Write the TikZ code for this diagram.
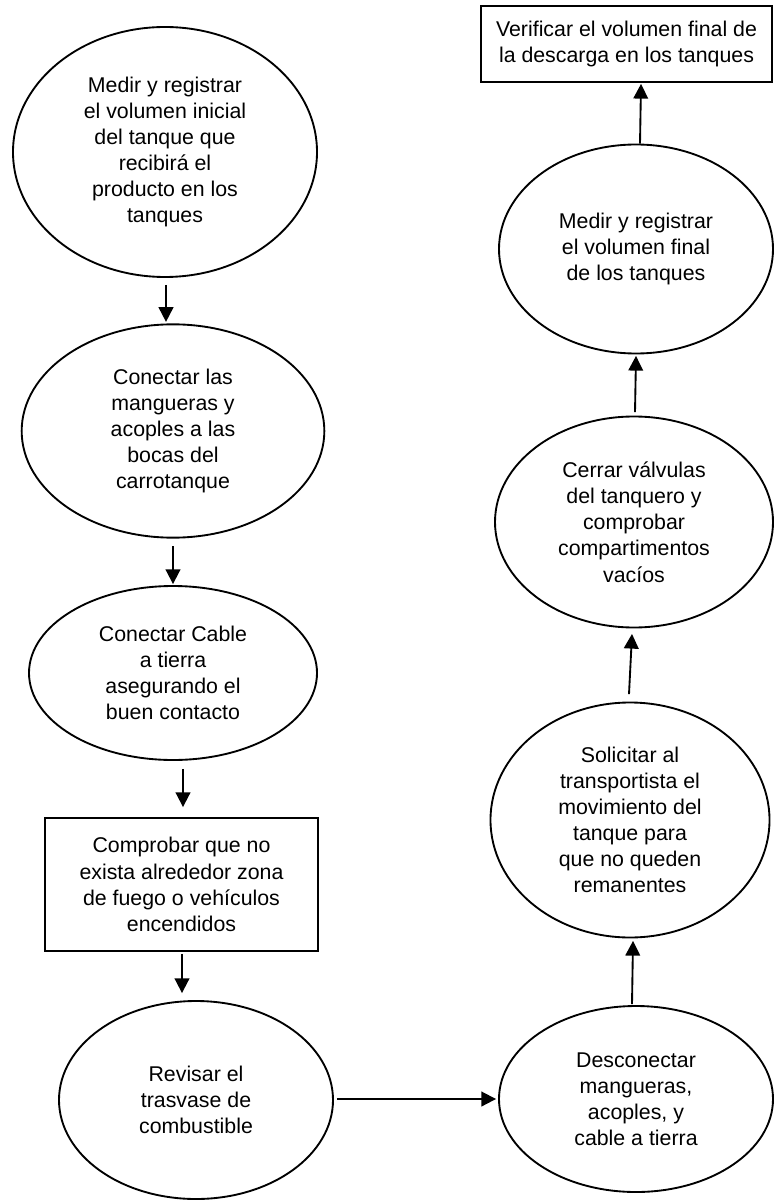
\documentclass[tikz,border=0pt]{standalone}
\usepackage{fontspec}
\setmainfont{Liberation Sans}
\usetikzlibrary{shapes.geometric,arrows.meta,calc}

\begin{document}
\begin{tikzpicture}[x=0.75pt,y=-0.75pt,
  every node/.style={font=\fontsize{16}{19.6}\selectfont, align=center, inner sep=0pt},
  oval/.style={ellipse, draw, line width=1.4pt},
  stepbox/.style={rectangle, draw, line width=1.4pt},
  arr/.style={line width=1.4pt, -{Triangle[length=11pt,width=11pt]}}]
\useasboundingbox (0,0) rectangle (774,1201);

% left column, top to bottom
\node[oval, minimum width=228pt, minimum height=187.5pt] (e1) at (165,152)
  {Medir y registrar\\el volumen inicial\\del tanque que\\recibirá el\\producto en los\\tanques};
\node[oval, minimum width=227pt, minimum height=160pt] (e2) at (173,431)
  {Conectar las\\mangueras y\\acoples a las\\bocas del\\carrotanque};
\node[oval, minimum width=216pt, minimum height=130.5pt] (e3) at (173,673)
  {Conectar Cable\\a tierra\\asegurando el\\buen contacto};
\node[stepbox, minimum width=204.75pt, minimum height=99.75pt] (r4) at (181.5,884.5)
  {Comprobar que no\\exista alrededor zona\\de fuego o vehículos\\encendidos};
\node[oval, minimum width=205.5pt, minimum height=148.5pt] (e5) at (196,1100)
  {Revisar el\\trasvase de\\combustible};

% right column, bottom to top
\node[oval, minimum width=205.5pt, minimum height=139.5pt] (e6) at (636,1099)
  {Desconectar\\mangueras,\\acoples, y\\cable a tierra};
\node[oval, minimum width=209.25pt, minimum height=176.25pt] (e7) at (630,820)
  {Solicitar al\\transportista el\\movimiento del\\tanque para\\que no queden\\remanentes};
\node[oval, minimum width=208.5pt, minimum height=158.25pt] (e8) at (634,522)
  {Cerrar válvulas\\del tanquero y\\comprobar\\compartimentos\\vacíos};
\node[oval, minimum width=205.5pt, minimum height=156.75pt] (e9) at (636,249)
  {Medir y registrar\\el volumen final\\de los tanques};
\node[stepbox, minimum width=218.25pt, minimum height=57pt] (r10) at (626.5,44)
  {Verificar el volumen final de\\la descarga en los tanques};

% connectors
\draw[arr] ($(e1.south)+(1,7)$) -- ($(e2.north)+(-7,-1.5)$);
\draw[arr] ($(e2.south)+(0,7.5)$) -- ($(e3.north)+(0,-1)$);
\draw[arr] ($(e3.south)+(10,8)$) -- ($(r4.north)+(1.5,-10)$);
\draw[arr] ($(r4.south)+(0.5,2)$) -- ($(e5.north)+(-14,-7)$);
\draw[arr] ($(e5.east)+(3,-1)$) -- ($(e6.west)+(-2,0)$);
\draw[arr] ($(e6.north)+(-4,-1)$) -- ($(e7.south)+(3,2.5)$);
\draw[arr] ($(e7.north)+(-1,-7.5)$) -- ($(e8.south)+(-2,5.5)$);
\draw[arr] ($(e8.north)+(1,-3.5)$) -- ($(e9.south)+(0,1.5)$);
\draw[arr] ($(e9.north)+(4,0)$) -- ($(r10.south)+(14.5,1)$);
\end{tikzpicture}
\end{document}
